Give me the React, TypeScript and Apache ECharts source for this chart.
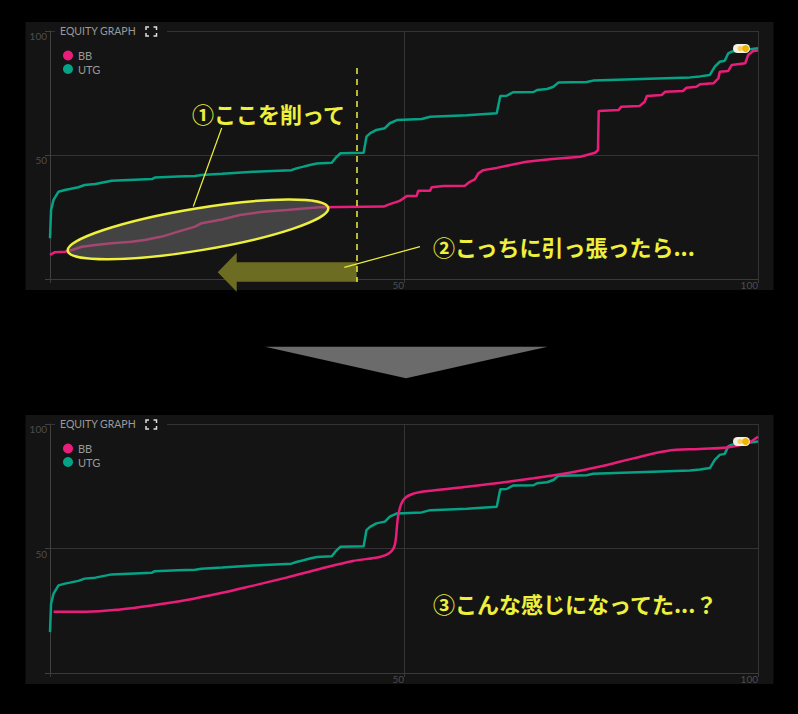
import React, { useEffect, useRef } from 'react';
import * as echarts from 'echarts';

// percentile (x) -> equity (y)
const utgEquity: number[][] = [
  [0, 16.4], [0.15, 27.8], [0.5, 31.9], [1.2, 35.2], [2.1, 35.9], [2.8, 36.3], [4.0, 37.0], [4.9, 37.9],
  [6.4, 38.3], [8.0, 39.2], [8.7, 39.6], [11.1, 39.9], [14.4, 40.3], [14.8, 40.9], [18.1, 41.3], [20.5, 41.5],
  [21.4, 41.9], [24.3, 42.4], [28.7, 43.2], [34.1, 43.9], [34.8, 44.6], [35.8, 45.3], [36.7, 46.0], [37.7, 46.6],
  [39.8, 46.9], [40.3, 48.7], [41.0, 50.7], [44.3, 50.9], [44.7, 57.4], [45.2, 58.7], [46.1, 60.1], [47.3, 60.8],
  [48.0, 62.8], [49.0, 64.1], [52.5, 64.5], [53.7, 65.4], [58.9, 66.0], [63.1, 66.8], [63.6, 73.8], [64.5, 73.9],
  [65.4, 75.3], [68.3, 75.4], [68.8, 76.2], [70.2, 76.6], [71.1, 77.5], [71.8, 79.2], [75.8, 79.4], [76.7, 80.0],
  [90.4, 81.3], [91.8, 81.7], [93.2, 82.3], [93.9, 85.6], [94.6, 87.6], [95.3, 88.0], [95.8, 91.0], [96.3, 91.7],
  [100, 93.0],
];

const bbEquityBefore: number[][] = [
  [0, 9.7], [0.7, 10.8], [2.1, 11.0], [3.1, 11.7], [4.5, 13.0], [6.4, 13.7], [8.7, 14.4], [11.5, 15.0],
  [13.4, 15.7], [15.8, 17.1], [18.1, 19.1], [20.5, 21.1], [21.4, 22.5], [24.3, 24.0], [26.8, 25.8], [30.1, 27.1],
  [33.4, 27.8], [36.3, 28.5], [38.1, 28.9], [47.1, 29.2], [48.0, 30.2], [49.4, 31.5], [50.4, 33.5], [51.8, 33.5],
  [52.0, 35.6], [53.7, 35.6], [53.9, 37.0], [55.6, 37.5], [58.6, 37.6], [59.3, 39.2], [60.0, 40.2], [60.5, 42.6],
  [61.2, 43.9], [63.1, 44.8], [67.3, 47.3], [70.6, 48.3], [74.9, 49.3], [77.0, 50.9], [77.4, 52.0], [77.5, 67.7],
  [80.3, 68.1], [80.7, 69.5], [83.3, 69.8], [84.0, 71.5], [84.3, 73.8], [86.4, 74.2], [86.9, 75.5], [89.4, 75.8],
  [89.9, 77.1], [91.3, 77.5], [91.8, 78.5], [93.7, 78.9], [94.4, 80.9], [94.6, 83.6], [95.8, 83.9], [96.3, 86.3],
  [98.2, 87.0], [98.6, 90.3], [99.3, 91.9], [100, 92.1],
];

const bbEquityAfter: number[][] = [
  [0.5, 24.6], [5.2, 24.6], [9.9, 25.5], [14.6, 27.2], [19.3, 29.3], [24.0, 32.0], [28.7, 35.1], [33.4, 38.3],
  [38.1, 41.8], [42.8, 45.0], [46.6, 46.6], [48.0, 48.3], [48.7, 51.4], [49.2, 63.5], [49.9, 69.5], [51.3, 72.0],
  [54.1, 73.3], [58.9, 74.8], [63.6, 76.4], [68.3, 78.2], [73.0, 80.2], [77.7, 82.9], [82.4, 86.2], [87.1, 89.2],
  [91.8, 90.0], [95.6, 90.6], [98.4, 92.2], [100, 94.9],
];

const playerNames = ['BB', 'UTG'];
const axisTicks = [0, 50, 100];
const notes = ['①ここを削って', '②こっちに引っ張ったら...', '③こんな感じになってた...？'];
const panelTitle = 'EQUITY GRAPH';

const PINK = '#e91e7a';
const TEAL = '#06a286';
const PANEL = '#141414';
const YELLOW = '#eef03c';
const JP = '"Noto Sans CJK JP", sans-serif';

const xAxisFor = (gridIndex: number) => ({
  type: 'value',
  gridIndex,
  min: axisTicks[0],
  max: axisTicks[2],
  interval: axisTicks[1],
  axisLine: { show: true, lineStyle: { color: '#3a3a3a' } },
  axisTick: { show: true, length: 4, lineStyle: { color: '#3a3a3a' } },
  axisLabel: {
    color: '#4d4d4d',
    fontSize: 10,
    align: 'right',
    margin: 1,
    formatter: (v: number) => (v === 0 ? '' : String(v)),
  },
  splitLine: { show: true, lineStyle: { color: '#343434' } },
});

const yAxisFor = (gridIndex: number) => ({
  type: 'value',
  gridIndex,
  min: axisTicks[0],
  max: axisTicks[2],
  interval: axisTicks[1],
  axisLine: { show: true, lineStyle: { color: '#404040' } },
  axisTick: { show: true, length: 5, lineStyle: { color: '#404040' } },
  axisLabel: {
    color: '#4d4d4d',
    fontSize: 10,
    verticalAlign: 'top',
    margin: 3,
    formatter: (v: number) => (v === 0 ? '' : String(v)),
  },
  splitLine: { show: true, lineStyle: { color: '#343434' } },
});

// panel chrome (background, title, expand icon, hero marker), dy = vertical offset
const panelChrome = (top: number, dy: number, h: number) => {
  const bracket = (pts: number[][]) => ({
    type: 'polyline',
    z: 6,
    shape: { points: pts.map(([x, y]) => [x, y + dy]) },
    style: { stroke: '#dddddd', lineWidth: 1.5, fill: null },
  });
  return [
    { type: 'rect', z: -1, shape: { x: 25.5, y: top, width: 748, height: h }, style: { fill: PANEL } },
    { type: 'rect', z: 5, shape: { x: 55, y: 27 + dy, width: 112, height: 8 }, style: { fill: PANEL } },
    {
      type: 'text',
      z: 6,
      x: 60,
      y: 31 + dy,
      style: { text: panelTitle, fill: '#9a9a9a', fontSize: 10.5, fontFamily: 'Lato, sans-serif', verticalAlign: 'middle' },
    },
    bracket([[146, 30], [146, 27], [149, 27]]),
    bracket([[153.5, 27], [156.5, 27], [156.5, 30]]),
    bracket([[146, 33], [146, 36], [149, 36]]),
    bracket([[153.5, 36], [156.5, 36], [156.5, 33]]),
    { type: 'rect', z: 60, shape: { x: 733, y: 44 + dy, width: 17, height: 9, r: 4.5 }, style: { fill: '#f3efe2' } },
    { type: 'circle', z: 61, shape: { cx: 740, cy: 48.5 + dy, r: 2.5 }, style: { fill: '#f3cf5a' } },
    { type: 'circle', z: 61, shape: { cx: 745.5, cy: 48.5 + dy, r: 3.5 }, style: { fill: '#efb400' } },
  ];
};

const noteText = (text: string, x: number, y: number) => ({
  type: 'text',
  z: 70,
  x,
  y,
  style: { text, fill: YELLOW, fontSize: 22, fontWeight: 'bold', fontFamily: JP, verticalAlign: 'middle' },
});

const App: React.FC = () => {
  const chartRef = useRef<HTMLDivElement | null>(null);

  useEffect(() => {
    if (!chartRef.current) return;
    const chart = echarts.init(chartRef.current, undefined, { renderer: 'svg' });

    const legendAt = (top: number) => ({
      orient: 'vertical',
      left: 63,
      top,
      padding: 0,
      icon: 'circle',
      itemWidth: 10,
      itemHeight: 10,
      itemGap: 2.5,
      selectedMode: false,
      data: playerNames,
      textStyle: { color: '#9a9a9a', fontSize: 11, fontFamily: 'Lato, sans-serif' },
    });

    const line = (name: string, color: string, data: number[][], idx: number, smooth = false) => ({
      name,
      type: 'line',
      xAxisIndex: idx,
      yAxisIndex: idx,
      data,
      symbol: 'none',
      smooth: smooth ? 0.35 : false,
      z: name === 'BB' ? 3 : 2,
      lineStyle: { color, width: 2.5 },
      itemStyle: { color },
    });

    chart.setOption({
      animation: false,
      backgroundColor: '#000',
      textStyle: { fontFamily: 'Lato, sans-serif' },
      grid: [
        { left: 50, top: 31, width: 708, height: 248 },
        { left: 50, top: 424, width: 708, height: 249 },
      ],
      xAxis: [xAxisFor(0), xAxisFor(1)],
      yAxis: [yAxisFor(0), yAxisFor(1)],
      legend: [legendAt(50), legendAt(443)],
      series: [
        line('UTG', TEAL, utgEquity, 0),
        line('BB', PINK, bbEquityBefore, 0),
        line('UTG', TEAL, utgEquity, 1),
        line('BB', PINK, bbEquityAfter, 1, true),
      ],
      graphic: [
        ...panelChrome(22, 0, 268),
        ...panelChrome(415, 393, 269),
        // arrow between the two panels
        {
          type: 'polygon',
          z: 10,
          shape: { points: [[265, 346.7], [547.7, 346.7], [406, 378.3]] },
          style: { fill: '#6b6b6b' },
        },
        // highlighted part of the BB line
        {
          type: 'ellipse',
          z: 50,
          x: 198,
          y: 229.4,
          rotation: 0.164,
          shape: { cx: 0, cy: 0, rx: 132, ry: 21 },
          style: { fill: 'rgba(105,105,105,0.55)', stroke: YELLOW, lineWidth: 2.5 },
        },
        {
          type: 'line',
          z: 51,
          shape: { x1: 221.7, y1: 128, x2: 193.3, y2: 206.5 },
          style: { stroke: YELLOW, lineWidth: 1.2 },
        },
        // drag arrow
        {
          type: 'polygon',
          z: 52,
          shape: {
            points: [
              [217.7, 272.3], [236.7, 252.7], [236.7, 262.3], [356.7, 262.3],
              [356.7, 281.7], [236.7, 281.7], [236.7, 291.7],
            ],
          },
          style: { fill: '#6c6c22' },
        },
        {
          type: 'line',
          z: 53,
          shape: { x1: 357, y1: 68, x2: 357, y2: 282 },
          style: { stroke: YELLOW, lineWidth: 1.5, lineDash: [6, 5] },
        },
        {
          type: 'line',
          z: 53,
          shape: { x1: 344.3, y1: 267.3, x2: 420, y2: 246.7 },
          style: { stroke: YELLOW, lineWidth: 1.2 },
        },
        noteText(notes[0], 192, 112.5),
        noteText(notes[1], 433, 246),
        noteText(notes[2], 433, 603),
      ],
    });

    return () => {
      chart.dispose();
    };
  }, []);

  return (
    <div style={{ position: 'absolute', left: 0, top: 0, width: 798, height: 714, background: '#000' }}>
      <div ref={chartRef} style={{ width: 798, height: 714 }} />
    </div>
  );
};

export default App;
